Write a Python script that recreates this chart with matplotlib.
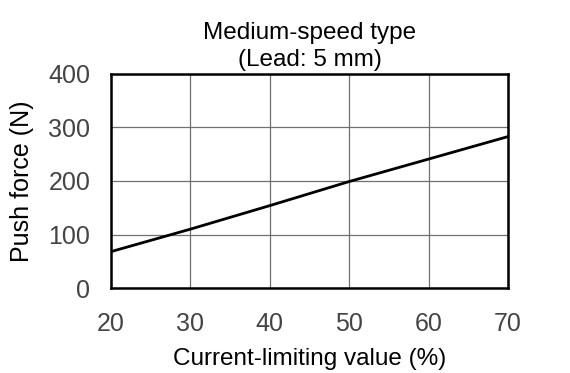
import matplotlib
matplotlib.use('Agg')
import matplotlib.pyplot as plt

plt.rcParams['font.family'] = ['Liberation Sans', 'DejaVu Sans']

current_pct = [20, 30, 40, 50, 60, 70]
push_force = [68, 110, 154, 199, 241, 283]

x_ticks = [20, 30, 40, 50, 60, 70]
y_ticks = [0, 100, 200, 300, 400]

fig = plt.figure(figsize=(5.7, 3.73), dpi=100)
ax = fig.add_axes([111 / 570, 1 - 288 / 373, 397 / 570, 214 / 373])

ax.plot(current_pct, push_force, color='black', lw=2)

ax.set_xlim(20, 70)
ax.set_ylim(0, 400)
ax.set_xticks(x_ticks)
ax.set_yticks(y_ticks)
ax.grid(True, color='#707070', lw=0.9)
ax.tick_params(length=0, labelsize=18, labelcolor='#444444')
ax.tick_params(axis='y', pad=15)
ax.tick_params(axis='x', pad=17)
for s in ax.spines.values():
    s.set_linewidth(1.8)

ax.set_xlabel('Current-limiting value (%)', fontsize=17.5, labelpad=9)
ax.set_ylabel('Push force (N)', fontsize=18, labelpad=10)
ax.set_title('Medium-speed type\n(Lead: 5 mm)', fontsize=17.5, pad=6, linespacing=1.3)

fig.savefig('out.png', dpi=100)
